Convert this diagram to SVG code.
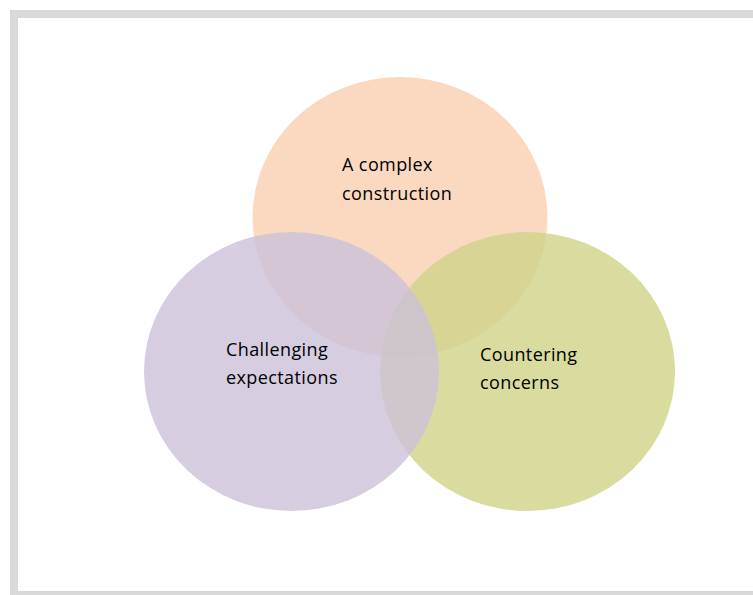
<svg xmlns="http://www.w3.org/2000/svg" width="753" height="595" viewBox="0 0 753 595">
  <style>
    .frame { fill: #ffffff; stroke: #d9d9d9; stroke-width: 8; }
    .lbl { font-family: "Open Sans", "Liberation Sans", sans-serif; font-size: 18px; fill: #000000; letter-spacing: 0.4px; }
    .peach { fill: #fbd9c0; }
    .green { fill: #cfd287; fill-opacity: 0.8; }
    .purple { fill: #ccc1da; fill-opacity: 0.8; }
  </style>
  <rect width="753" height="595" fill="#ffffff"/>
  <rect class="frame" x="14" y="14" width="760" height="581"/>
  <g id="node-construction">
    <ellipse class="peach" cx="400" cy="217" rx="147.5" ry="140"/>
  </g>
  <g id="node-concerns">
    <ellipse class="green" cx="527.5" cy="371.5" rx="147.5" ry="139.5"/>
  </g>
  <g id="node-expectations">
    <ellipse class="purple" cx="291.5" cy="371.5" rx="147.5" ry="139.5"/>
  </g>
  <g id="labels">
    <text class="lbl" x="342" y="171">A complex</text>
    <text class="lbl" x="342" y="200">construction</text>
    <text class="lbl" x="226" y="356">Challenging</text>
    <text class="lbl" x="226" y="384">expectations</text>
    <text class="lbl" x="480" y="361">Countering</text>
    <text class="lbl" x="480" y="389">concerns</text>
  </g>
</svg>
